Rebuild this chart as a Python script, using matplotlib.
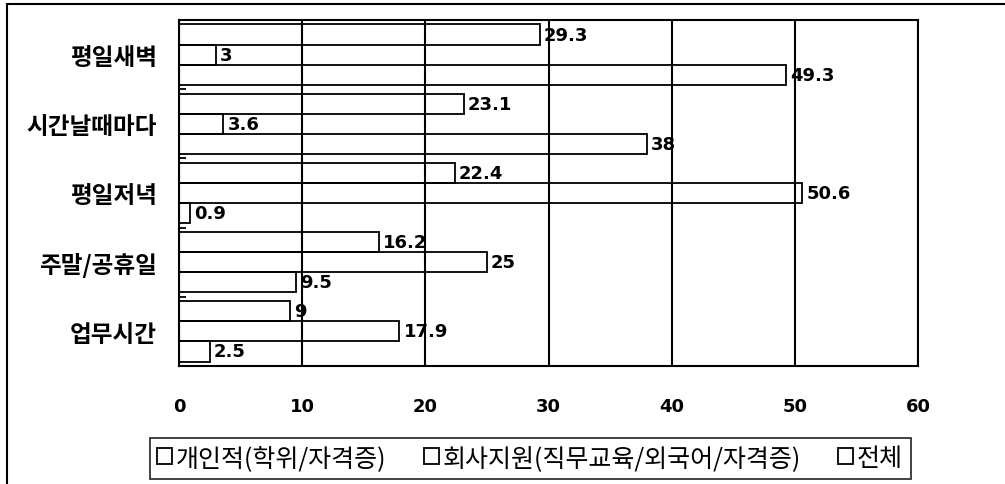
import matplotlib
matplotlib.use("Agg")
import matplotlib.pyplot as plt
import numpy as np
from matplotlib.patches import Rectangle

plt.rcParams['font.family'] = ['Noto Sans CJK KR', 'DejaVu Sans']

# 카테고리 (위에서 아래 순서)
categories = ["평일새벽", "시간날때마다", "평일저녁", "주말/공휴일", "업무시간"]
series_names = ["개인적(학위/자격증)", "회사지원(직무교육/외국어/자격증)", "전체"]

# 값 (%)
personal = [49.3, 38, 0.9, 9.5, 2.5]
company = [3, 3.6, 50.6, 25, 17.9]
total = [29.3, 23.1, 22.4, 16.2, 9]
x_ticks = [0, 10, 20, 30, 40, 50, 60]

fig = plt.figure(figsize=(10.05, 4.85), dpi=100)
ax = fig.add_axes([179 / 1005, 1 - 367 / 485, (918 - 179) / 1005, (367 - 21) / 485])

h = 0.29
pos = np.arange(len(categories))
# 그룹 안에서: 위 = 전체, 가운데 = 회사지원, 아래 = 개인적
offsets = [h, 0, -h]
bars = []
for vals, off, name in zip([personal, company, total], offsets, series_names):
    b = ax.barh(pos + off, vals, height=h, facecolor="none", edgecolor="black",
                linewidth=1.3, label=name, zorder=3)
    ax.bar_label(b, fmt="%g", padding=3, fontsize=13, fontweight="bold",
                 family=["DejaVu Sans"], zorder=4)
    bars.append(b)

ax.set_xlim(0, 60)
ax.set_ylim(len(categories) - 0.5, -0.5)
ax.set_xticks(x_ticks)
ax.set_xticklabels([str(t) for t in x_ticks], fontsize=13, fontweight="bold",
                   family=["DejaVu Sans"])
ax.tick_params(axis="x", length=0, pad=22)
ax.set_yticks(pos)
ax.set_yticklabels(categories, fontsize=17, fontweight="bold")
ax.tick_params(axis="y", length=0, pad=16)
ax.set_yticks(np.arange(len(categories) + 1) - 0.5, minor=True)
ax.tick_params(axis="y", which="minor", direction="in", length=5, width=1.3, color="black")

ax.xaxis.grid(True, color="black", linewidth=1.5, zorder=1)
for s in ax.spines.values():
    s.set_color("black")
    s.set_linewidth(1.5)

leg = fig.legend(handles=bars, labels=series_names, loc="center", ncol=3,
                 bbox_to_anchor=(530 / 1005, 1 - 459 / 485), fontsize=18,
                 frameon=True, fancybox=False, edgecolor="black",
                 handlelength=0.6, handleheight=0.6, handletextpad=0.15,
                 columnspacing=1.5, borderpad=0.3, borderaxespad=0)
leg.get_frame().set_linewidth(1.3)

# 바깥 테두리
fig.patches.append(Rectangle((7 / 1005, -0.1), 1.5, 1.1 - 5 / 485, transform=fig.transFigure,
                             fill=False, edgecolor="black", linewidth=1.5))

fig.savefig("out.png", dpi=100)
